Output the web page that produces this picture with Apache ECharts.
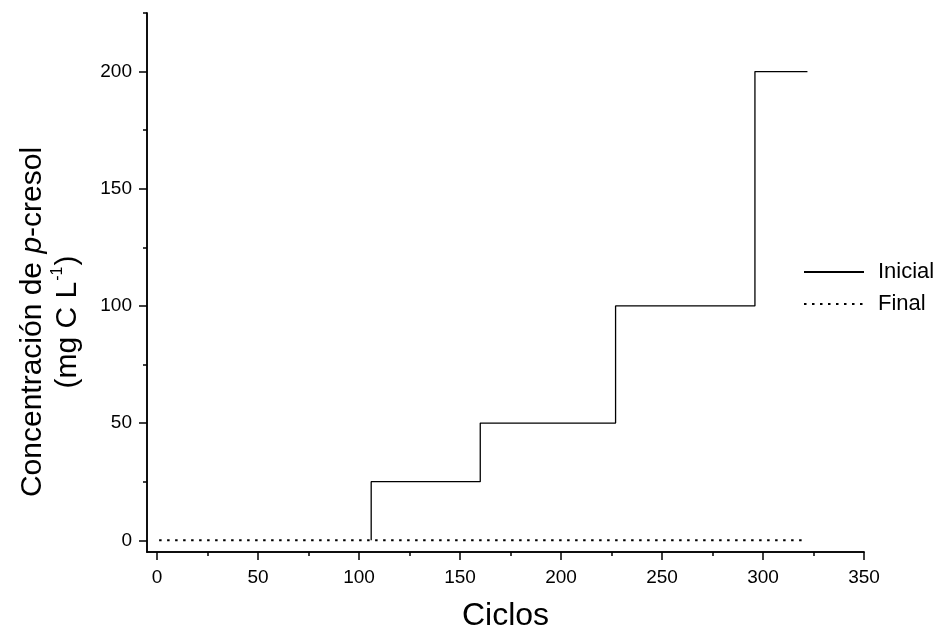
<!DOCTYPE html>
<html><head><meta charset="utf-8">
<script src="https://cdn.jsdelivr.net/npm/echarts@6/dist/echarts.min.js"></script>
<style>html,body{margin:0;padding:0;background:#fff}#c{width:952px;height:637px}</style>
</head><body><div id="c"></div>
<script>
// Data
const inicialX = [106, 106, 160, 160, 227, 227, 296, 296, 322];
const inicialY = [0, 25, 25, 50, 50, 100, 100, 200, 200];
const finalX = [1, 321];
const finalY = [0, 0];
const xTicks = [0, 50, 100, 150, 200, 250, 300, 350];
const xMinor = [25, 75, 125, 175, 225, 275, 325];
const yTicks = [0, 50, 100, 150, 200];
const yMinor = [25, 75, 125, 175, 225];

const font = '"Liberation Sans", Arial, sans-serif';
const chart = echarts.init(document.getElementById('c'), null, {renderer: 'canvas'});
const xMin = -5, xMax = 350, yMin = -5, yMax = 225;
const axisLineStyle = {color: '#000', width: 1.5};
const baseAxisX = {type: 'value', min: xMin, max: xMax, splitLine: {show: false},
  axisLine: {show: true, onZero: false, lineStyle: axisLineStyle}};
const baseAxisY = {type: 'value', min: yMin, max: yMax, splitLine: {show: false},
  axisLine: {show: true, onZero: false, lineStyle: axisLineStyle}};
chart.setOption({
  animation: false,
  grid: {left: 147, right: 88, top: 13, bottom: 82, containLabel: false},
  xAxis: [
    Object.assign({}, baseAxisX, {
      name: 'Ciclos', nameLocation: 'middle', nameGap: 48,
      nameTextStyle: {fontFamily: font, fontSize: 32, color: '#000'},
      axisTick: {show: true, length: 8, customValues: xTicks, lineStyle: axisLineStyle},
      axisLabel: {show: true, customValues: xTicks, fontFamily: font, fontSize: 19, color: '#000', margin: 16}
    }),
    Object.assign({}, baseAxisX, {
      position: 'bottom',
      axisTick: {show: true, length: 4, customValues: xMinor, lineStyle: axisLineStyle},
      axisLabel: {show: false}
    })
  ],
  yAxis: [
    Object.assign({}, baseAxisY, {
      name: '{a|Concentración de }{i|p}{a|-cresol}\n{a|(mg C L}{s|-1}{a|)}',
      nameLocation: 'middle', nameGap: 62, nameRotate: 90,
      nameTextStyle: {color: '#000', align: 'center', lineHeight: 35, padding: [0, 79, 0, 0],
        rich: {
          a: {fontFamily: font, fontSize: 30, color: '#000', lineHeight: 35},
          i: {fontFamily: font, fontSize: 30, fontStyle: 'italic', color: '#000', lineHeight: 35},
          s: {fontFamily: font, fontSize: 16, color: '#000', verticalAlign: 'top', lineHeight: 22, padding: [0, 1, 12, 1]}
        }},
      axisTick: {show: true, length: 8, customValues: yTicks, lineStyle: axisLineStyle},
      axisLabel: {show: true, customValues: yTicks, fontFamily: font, fontSize: 19, color: '#000', margin: 15}
    }),
    Object.assign({}, baseAxisY, {
      position: 'left',
      axisTick: {show: true, length: 4, customValues: yMinor, lineStyle: axisLineStyle},
      axisLabel: {show: false}
    })
  ],
  legend: {
    orient: 'vertical', left: 803, top: 261, itemWidth: 60, itemHeight: 20, itemGap: 10,
    padding: 0,
    itemStyle: {opacity: 0},
    textStyle: {fontFamily: font, fontSize: 22, color: '#000', lineHeight: 20, padding: [0, 0, 0, 9]},
    data: ['Inicial', 'Final']
  },
  series: [
    {name: 'Final', type: 'line', xAxisIndex: 0, yAxisIndex: 0, showSymbol: false, symbol: 'none',
     data: finalX.map((x, i) => [x, finalY[i]]), lineStyle: {color: '#000', width: 2, type: [2.5, 5.5]}, itemStyle: {color: '#000'}},
    {name: 'Inicial', type: 'line', xAxisIndex: 0, yAxisIndex: 0, showSymbol: false, symbol: 'none',
     data: inicialX.map((x, i) => [x, inicialY[i]]), lineStyle: {color: '#000', width: 1.3}, itemStyle: {color: '#000'}}
  ]
});
</script></body></html>
